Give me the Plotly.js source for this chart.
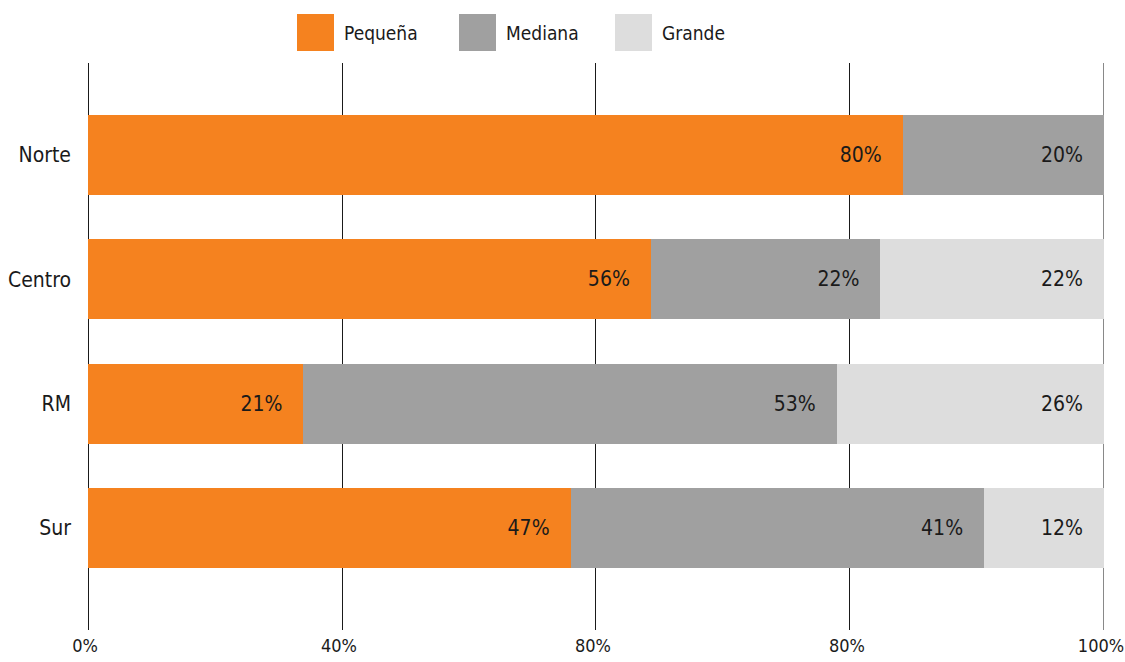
<!DOCTYPE html>
<html>
<head>
<meta charset="utf-8">
<script src="https://cdn.plot.ly/plotly-3.0.1.min.js"></script>
<style>
html,body{margin:0;padding:0;background:#fff;}
#chart{width:1125px;height:662px;}
</style>
</head>
<body>
<div id="chart"></div>
<script>
// ---- data ----
const categories = ['Norte', 'Centro', 'RM', 'Sur'];
const seriesNames = ['Pequeña', 'Mediana', 'Grande'];
// bar lengths as drawn (percent of total)
const pequena = [80.2, 55.4, 21.2, 47.5];
const mediana = [19.8, 22.6, 52.5, 40.7];
const grande  = [0, 22.0, 26.3, 11.8];
// value labels as printed on the bars
const pequenaLabels = ['80%', '56%', '21%', '47%'];
const medianaLabels = ['20%', '22%', '53%', '41%'];
const grandeLabels  = ['', '22%', '26%', '12%'];
const tickVals = [0, 25, 50, 75, 100];
const tickText = ['0%', '40%', '80%', '80%', '100%'];

const colors = ['#F5821F', '#A0A0A0', '#DDDDDD'];
const FONT = '"Liberation Sans Narrow", "DejaVu Sans Condensed", sans-serif';
const seriesValues = [pequena, mediana, grande];
const seriesLabels = [pequenaLabels, medianaLabels, grandeLabels];

const traces = seriesValues.map((vals, i) => ({
  type: 'bar',
  orientation: 'h',
  name: seriesNames[i],
  y: categories,
  x: vals,
  marker: {color: colors[i], line: {width: 0}},
  text: seriesLabels[i].map(t => t ? t + '\u00a0\u00a0\u00a0' : ''),
  textposition: 'inside',
  insidetextanchor: 'end',
  constraintext: 'none',
  textfont: {family: FONT, size: 21, color: '#1a1a1a'},
  hoverinfo: 'x+y+name',
  showlegend: false,
  width: 0.644
}));

// custom legend (large square swatches like the reference)
const L = 88, R = 1104, T = 63, B = 630;
const px2x = p => (p - L) / (R - L);
const py2y = p => (B - p) / (B - T);
const legendX = [297, 459, 615];
const shapes = [], annotations = [];
seriesNames.forEach((n, i) => {
  shapes.push({type: 'rect', xref: 'paper', yref: 'paper',
    x0: px2x(legendX[i]), x1: px2x(legendX[i] + 37),
    y0: py2y(51), y1: py2y(14),
    fillcolor: colors[i], line: {width: 0}});
  annotations.push({xref: 'paper', yref: 'paper', x: px2x(legendX[i] + 45), y: py2y(33),
    xanchor: 'left', yanchor: 'middle', showarrow: false, text: n,
    font: {family: FONT, size: 19, color: '#1a1a1a'}});
});
// grid line at the right end of the axis (Plotly omits grid at range edge)
const lastTick = tickVals[tickVals.length - 1];
shapes.push({type: 'line', xref: 'x', yref: 'paper', x0: lastTick, x1: lastTick,
  y0: 0, y1: 1, layer: 'below', line: {color: '#1a1a1a', width: 1}});

const layout = {
  width: 1125, height: 662,
  margin: {l: L, r: 1125 - R, t: T, b: 662 - B, pad: 0},
  paper_bgcolor: '#fff', plot_bgcolor: '#fff',
  barmode: 'stack',
  showlegend: false,
  font: {family: FONT, color: '#1a1a1a'},
  xaxis: {
    range: [0, 100.001],
    tickvals: tickVals, ticktext: tickText,
    showgrid: true, gridcolor: '#1a1a1a', gridwidth: 1,
    zeroline: true, zerolinecolor: '#1a1a1a', zerolinewidth: 1,
    showline: false, ticks: '', ticklabelstandoff: 3,
    ticklabelshift: -3,
    ticklabeloverflow: 'allow',
    tickfont: {family: FONT, size: 18, color: '#1a1a1a'},
    fixedrange: true
  },
  yaxis: {
    type: 'category',
    categoryorder: 'array', categoryarray: categories,
    range: [3.82, -0.74], autorange: false,
    showgrid: false, zeroline: false, showline: false, ticks: '',
    ticklabelstandoff: 16,
    tickfont: {family: FONT, size: 21, color: '#1a1a1a'},
    fixedrange: true
  },
  shapes: shapes,
  annotations: annotations
};

Plotly.newPlot('chart', traces, layout, {displayModeBar: false, staticPlot: true});
</script>
</body>
</html>
